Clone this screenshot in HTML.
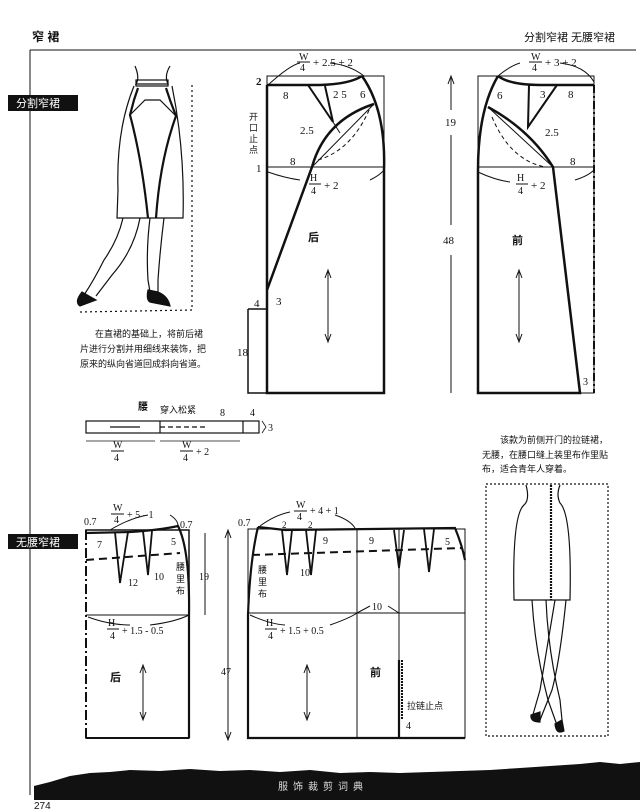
<!DOCTYPE html>
<html><head><meta charset="utf-8"><style>
html,body{margin:0;padding:0;background:#fff;}
svg{display:block;}
text{font-family:"Liberation Serif","Noto Serif CJK SC","Noto Sans CJK SC",serif;fill:#111;}
.c{font-family:"Liberation Sans","Noto Sans CJK SC",sans-serif;}
</style></head><body>
<svg width="640" height="809" viewBox="0 0 640 809" xmlns="http://www.w3.org/2000/svg">
<g stroke="#111" fill="none" stroke-width="1">
<!-- header -->
<line x1="30" y1="50" x2="636" y2="50"/>
<line x1="30" y1="50" x2="30" y2="795"/>
</g>
<text x="32" y="41" class="c" font-size="12" font-weight="bold">窄 裙</text>
<text x="524" y="41" class="c" font-size="11">分割窄裙  无腰窄裙</text>
<rect x="8" y="95" width="70" height="16" fill="#111"/>
<text x="16" y="107" class="c" font-size="11" style="fill:#fff">分割窄裙</text>
<rect x="8" y="534" width="70" height="15" fill="#111"/>
<text x="16" y="546" class="c" font-size="11" style="fill:#fff">无腰窄裙</text>

<!-- left illustration -->
<g stroke="#111" fill="none" stroke-width="1.2">
<path d="M135 66 Q140 78 136 84 L168 84 Q164 76 170 66"/>
<rect x="136" y="80" width="32" height="6"/>
<path d="M134 86 Q116 130 118 190 L117 218 L183 218 Q185 150 172 86"/>
<path d="M138 88 L134 100 L130 115 Q142 160 148 218" stroke-width="2.2"/>
<path d="M166 88 L170 100 L176 116 Q160 160 156 218" stroke-width="2.2"/>
<path d="M130 115 L145 100 L160 100 L176 116"/>
<path d="M123 218 Q118 240 104 260 Q94 280 84 295"/>
<path d="M140 218 Q134 250 112 275 L96 296"/>
<path d="M150 218 Q146 250 148 280 L150 292"/>
<path d="M164 218 Q160 250 158 280 L158 292"/>
<path d="M82 292 Q74 302 80 306 L96 300 Z" fill="#111"/>
<path d="M148 290 Q146 300 150 302 L170 306 Q168 296 158 292 Z" fill="#111"/>
<path d="M192 85 L192 310 L80 312" stroke-dasharray="2 3"/>
</g>
<text x="95" y="337" class="c" font-size="9">在直裙的基础上，将前后裙</text>
<text x="80" y="352" class="c" font-size="9">片进行分割并用细线来装饰，把</text>
<text x="80" y="367" class="c" font-size="9">原来的纵向省道回成斜向省道。</text>

<!-- waistband -->
<g stroke="#111" fill="none" stroke-width="1.2">
<rect x="86" y="421" width="173" height="12"/>
<line x1="160" y1="421" x2="160" y2="433"/>
<line x1="243" y1="421" x2="243" y2="433"/>
<line x1="160" y1="427" x2="205" y2="427" stroke-dasharray="5 3"/>
<line x1="110" y1="427" x2="140" y2="427"/>
<line x1="86" y1="441" x2="155" y2="441" stroke-width="0.8"/>
<line x1="160" y1="441" x2="240" y2="441" stroke-width="0.8"/>
<path d="M262 421 L266 427 L262 433" stroke-width="0.8"/>
</g>
<text x="138" y="410" class="c" font-size="10" font-weight="bold">腰</text>
<text x="160" y="413" class="c" font-size="9">穿入松紧</text>
<text x="220" y="416" font-size="10">8</text>
<text x="250" y="416" font-size="10">4</text>
<text x="268" y="431" font-size="10">3</text>
<text x="113" y="448" font-size="10">W</text><line x1="111" y1="451" x2="124" y2="451" stroke="#111"/><text x="114" y="461" font-size="10">4</text>
<text x="182" y="448" font-size="10">W</text><line x1="180" y1="451" x2="193" y2="451" stroke="#111"/><text x="183" y="461" font-size="10">4</text><text x="196" y="455" font-size="10">+ 2</text>

<!-- back pattern -->
<g stroke="#111" fill="none" stroke-width="1">
<rect x="267" y="76" width="117" height="317"/>
<line x1="267" y1="167" x2="384" y2="167"/>
<path d="M267 85 L320 85 Q350 84 362 76" stroke-width="2.5"/>
<path d="M267 85 L267 393 L384 393 L384 170 Q386 110 362 76" stroke-width="2.5"/>
<path d="M248 309 L267 309 M248 309 L248 393 L267 393" stroke-width="1.5"/>
<path d="M267 290 L312 167 Q325 120 374 104" stroke-width="2.5"/>
<path d="M308 85 L333 122 L325 86" stroke-width="2"/>
<path d="M333 122 L340 133"/>
<path d="M312 167 L374 104" />
<path d="M318 160 Q352 150 370 108" stroke-dasharray="4 3"/>
<path d="M268 85 Q290 65 300 63 M330 63 Q350 65 364 76"/>
<path d="M268 172 Q285 178 300 180 M370 180 Q380 175 384 170"/>
<line x1="328" y1="272" x2="328" y2="340"/>
<path d="M325 278 L328 270 L331 278 M325 334 L328 342 L331 334"/>
</g>
<text x="299" y="60" font-size="10">W</text><line x1="297" y1="62" x2="310" y2="62" stroke="#111"/><text x="300" y="71" font-size="10">4</text><text x="313" y="66" font-size="11">+ 2.5 + 2</text>
<text x="256" y="85" font-size="11" font-weight="bold">2</text>
<text x="283" y="99" font-size="11">8</text>
<text x="333" y="98" font-size="11">2 5</text>
<text x="360" y="98" font-size="11">6</text>
<text x="300" y="134" font-size="11">2.5</text>
<text x="256" y="172" font-size="11">1</text>
<text x="290" y="165" font-size="11">8</text>
<text x="249" y="120" class="c" font-size="9">开</text><text x="249" y="131" class="c" font-size="9">口</text><text x="249" y="142" class="c" font-size="9">止</text><text x="249" y="153" class="c" font-size="9">点</text>
<text x="310" y="181" font-size="10">H</text><line x1="309" y1="184" x2="321" y2="184" stroke="#111"/><text x="311" y="194" font-size="10">4</text><text x="324" y="189" font-size="11">+ 2</text>
<text x="308" y="241" class="c" font-size="11" font-weight="bold">后</text>
<text x="254" y="307" font-size="11">4</text>
<text x="276" y="305" font-size="11">3</text>
<text x="237" y="356" font-size="11">18</text>

<!-- front pattern -->
<g stroke="#111" fill="none" stroke-width="1">
<rect x="478" y="76" width="116" height="317"/>
<line x1="478" y1="167" x2="594" y2="167"/>
<path d="M498 76 Q510 85 540 85 L594 85" stroke-width="2.5"/>
<path d="M498 76 Q478 110 478 170 L478 393 L580 393 L553 167 Q530 130 488 107" stroke-width="2.5"/>
<path d="M529 85 L528 127 L557 85" stroke-width="2"/>
<line x1="488" y1="107" x2="553" y2="167"/>
<path d="M492 117 Q510 160 545 167" stroke-dasharray="4 3"/>
<line x1="594" y1="85" x2="594" y2="393" stroke-dasharray="8 3 2 3" stroke-width="2"/>
<path d="M498 76 Q510 66 520 63 M560 63 Q585 66 594 82"/>
<path d="M478 172 Q495 180 510 182 M575 180 Q588 176 594 170"/>
<line x1="451" y1="78" x2="451" y2="110"/><path d="M448 84 L451 76 L454 84"/>
<line x1="451" y1="135" x2="451" y2="225"/>
<line x1="451" y1="255" x2="451" y2="393"/>
<line x1="519" y1="272" x2="519" y2="340"/>
<path d="M516 278 L519 270 L522 278 M516 334 L519 342 L522 334"/>
</g>
<text x="531" y="60" font-size="10">W</text><line x1="529" y1="62" x2="542" y2="62" stroke="#111"/><text x="532" y="71" font-size="10">4</text><text x="545" y="66" font-size="11">+ 3 + 2</text>
<text x="497" y="99" font-size="11">6</text>
<text x="540" y="98" font-size="11">3</text>
<text x="568" y="98" font-size="11">8</text>
<text x="545" y="136" font-size="11">2.5</text>
<text x="570" y="165" font-size="11">8</text>
<text x="517" y="181" font-size="10">H</text><line x1="516" y1="184" x2="528" y2="184" stroke="#111"/><text x="518" y="194" font-size="10">4</text><text x="531" y="189" font-size="11">+ 2</text>
<text x="445" y="126" font-size="11">19</text>
<text x="443" y="244" font-size="11">48</text>
<text x="512" y="244" class="c" font-size="11" font-weight="bold">前</text>
<text x="583" y="385" font-size="10">3</text>

<!-- right illustration -->
<text x="500" y="443" class="c" font-size="9">该款为前侧开门的拉链裙，</text>
<text x="482" y="458" class="c" font-size="9">无腰，在腰口缝上装里布作里贴</text>
<text x="482" y="472" class="c" font-size="9">布，适合青年人穿着。</text>
<g stroke="#111" fill="none" stroke-width="1.2">
<rect x="486" y="484" width="122" height="252" stroke-dasharray="2 2"/>
<path d="M526 485 Q530 500 524 505 Q512 515 514 600 L570 600 Q572 515 560 503 Q556 495 560 485"/>
<line x1="551" y1="485" x2="551" y2="600" stroke-width="2.2" stroke-dasharray="2 1"/>
<path d="M532 600 Q535 650 548 700 L558 728 M546 600 Q548 650 560 700 L562 720"/>
<path d="M555 600 Q545 660 540 690 L532 718 M566 600 Q560 660 552 690 L540 720"/>
<path d="M531 715 Q530 722 540 722 L540 712 Z" fill="#111"/>
<path d="M555 724 Q556 735 564 731 L562 720 Z" fill="#111"/>
</g>

<!-- bottom left pattern -->
<g stroke="#111" fill="none" stroke-width="1">
<rect x="86" y="530" width="103" height="208" stroke-width="1.5"/>
<line x1="86" y1="530" x2="86" y2="738" stroke="#fff" stroke-width="2"/>
<line x1="86" y1="530" x2="86" y2="738" stroke-dasharray="10 3 2 3" stroke-width="2"/>
<line x1="86" y1="738" x2="189" y2="738" stroke-width="2"/>
<path d="M86 533 L130 532 Q160 530 178 526 Q190 550 189 615 L189 738" stroke-width="2.2"/>
<line x1="86" y1="615" x2="189" y2="615"/>
<path d="M86 560 L180 553" stroke-dasharray="8 5" stroke-width="2"/>
<path d="M115 532 L120 583 L128 532" stroke-width="1.8"/>
<path d="M143 531 L148 575 L152 531" stroke-width="1.8"/>
<path d="M88 617 Q110 625 130 625 M150 625 Q175 622 189 615"/>
<path d="M110 530 Q130 518 148 515 M170 515 Q178 520 178 526"/>
<line x1="205" y1="533" x2="205" y2="615"/>
<line x1="143" y1="667" x2="143" y2="718"/>
<path d="M140 673 L143 665 L146 673 M140 712 L143 720 L146 712"/>
</g>
<text x="84" y="525" font-size="10">0.7</text>
<text x="180" y="528" font-size="10">0.7</text>
<text x="113" y="511" font-size="10">W</text><line x1="111" y1="514" x2="124" y2="514" stroke="#111"/><text x="114" y="523" font-size="10">4</text><text x="127" y="518" font-size="10">+ 5 - 1</text>
<text x="97" y="548" font-size="10">7</text>
<text x="171" y="545" font-size="10">5</text>
<text x="154" y="580" font-size="10">10</text>
<text x="128" y="586" font-size="10">12</text>
<text x="176" y="570" class="c" font-size="9">腰</text><text x="176" y="582" class="c" font-size="9">里</text><text x="176" y="594" class="c" font-size="9">布</text>
<text x="199" y="580" font-size="10">19</text>
<text x="108" y="626" font-size="10">H</text><line x1="107" y1="629" x2="119" y2="629" stroke="#111"/><text x="110" y="639" font-size="10">4</text><text x="122" y="634" font-size="10">+ 1.5 - 0.5</text>
<text x="110" y="681" class="c" font-size="11" font-weight="bold">后</text>

<!-- bottom middle pattern -->
<g stroke="#111" fill="none" stroke-width="1">
<rect x="248" y="529" width="217" height="209"/>
<path d="M258 527 Q250 560 248 615 L248 738 L465 738" stroke-width="2.2"/>
<path d="M258 527 L285 530 L455 528 Q462 545 465 560" stroke-width="2.2"/>
<line x1="357" y1="529" x2="357" y2="738"/>
<line x1="399" y1="529" x2="399" y2="738"/>
<line x1="399" y1="660" x2="399" y2="738" stroke-width="2.2"/>
<line x1="248" y1="613" x2="465" y2="613"/>
<path d="M252 555 L462 548" stroke-dasharray="8 5" stroke-width="2"/>
<path d="M282 530 L287 575 L292 530" stroke-width="1.8"/>
<path d="M306 530 L311 575 L316 530" stroke-width="1.8"/>
<path d="M394 530 L399 568 L404 530" stroke-width="1.8"/>
<path d="M424 529 L429 572 L434 529" stroke-width="1.8"/>
<path d="M260 526 Q275 515 290 512 M335 515 Q350 520 355 528"/>
<path d="M250 615 Q270 624 285 625 M330 625 Q350 618 357 613"/>
<path d="M357 613 L370 606 M388 606 L399 613"/>
<line x1="228" y1="532" x2="228" y2="738"/>
<path d="M225 538 L228 530 L231 538 M225 732 L228 740 L231 732"/>
<line x1="307" y1="667" x2="307" y2="718"/>
<path d="M304 673 L307 665 L310 673 M304 712 L307 720 L310 712"/>
<line x1="402" y1="660" x2="402" y2="720" stroke-dasharray="2 1" stroke-width="2"/>
</g>
<text x="238" y="526" font-size="10">0.7</text>
<text x="296" y="508" font-size="10">W</text><line x1="294" y1="511" x2="307" y2="511" stroke="#111"/><text x="297" y="520" font-size="10">4</text><text x="310" y="514" font-size="10">+ 4 + 1</text>
<text x="282" y="528" font-size="9">2</text><text x="308" y="528" font-size="9">2</text>
<text x="323" y="544" font-size="10">9</text>
<text x="369" y="544" font-size="10">9</text>
<text x="445" y="545" font-size="10">5</text>
<text x="300" y="576" font-size="10">10</text>
<text x="258" y="573" class="c" font-size="9">腰</text><text x="258" y="585" class="c" font-size="9">里</text><text x="258" y="597" class="c" font-size="9">布</text>
<text x="372" y="610" font-size="10">10</text>
<text x="266" y="626" font-size="10">H</text><line x1="265" y1="629" x2="277" y2="629" stroke="#111"/><text x="268" y="639" font-size="10">4</text><text x="280" y="634" font-size="10">+ 1.5 + 0.5</text>
<text x="221" y="675" font-size="10">47</text>
<text x="370" y="676" class="c" font-size="11" font-weight="bold">前</text>
<text x="407" y="709" class="c" font-size="9">拉链止点</text>
<text x="406" y="729" font-size="10">4</text>

<!-- bottom band -->
<path d="M34 800 L34 786 L50 782 L70 776 L90 773 L110 772 L130 770 L160 771 L190 769 L220 771 L250 770 L280 772 L310 770 L340 773 L370 772 L400 773 L430 772 L460 771 L490 770 L520 768 L550 766 L580 764 L600 762 L620 764 L640 762 L640 800 Z" fill="#111"/>
<text x="278" y="790" class="c" font-size="10" style="fill:#ddd" letter-spacing="5">服饰裁剪词典</text>
<text x="34" y="809" class="c" font-size="10">274</text>
</svg>
</body></html>
